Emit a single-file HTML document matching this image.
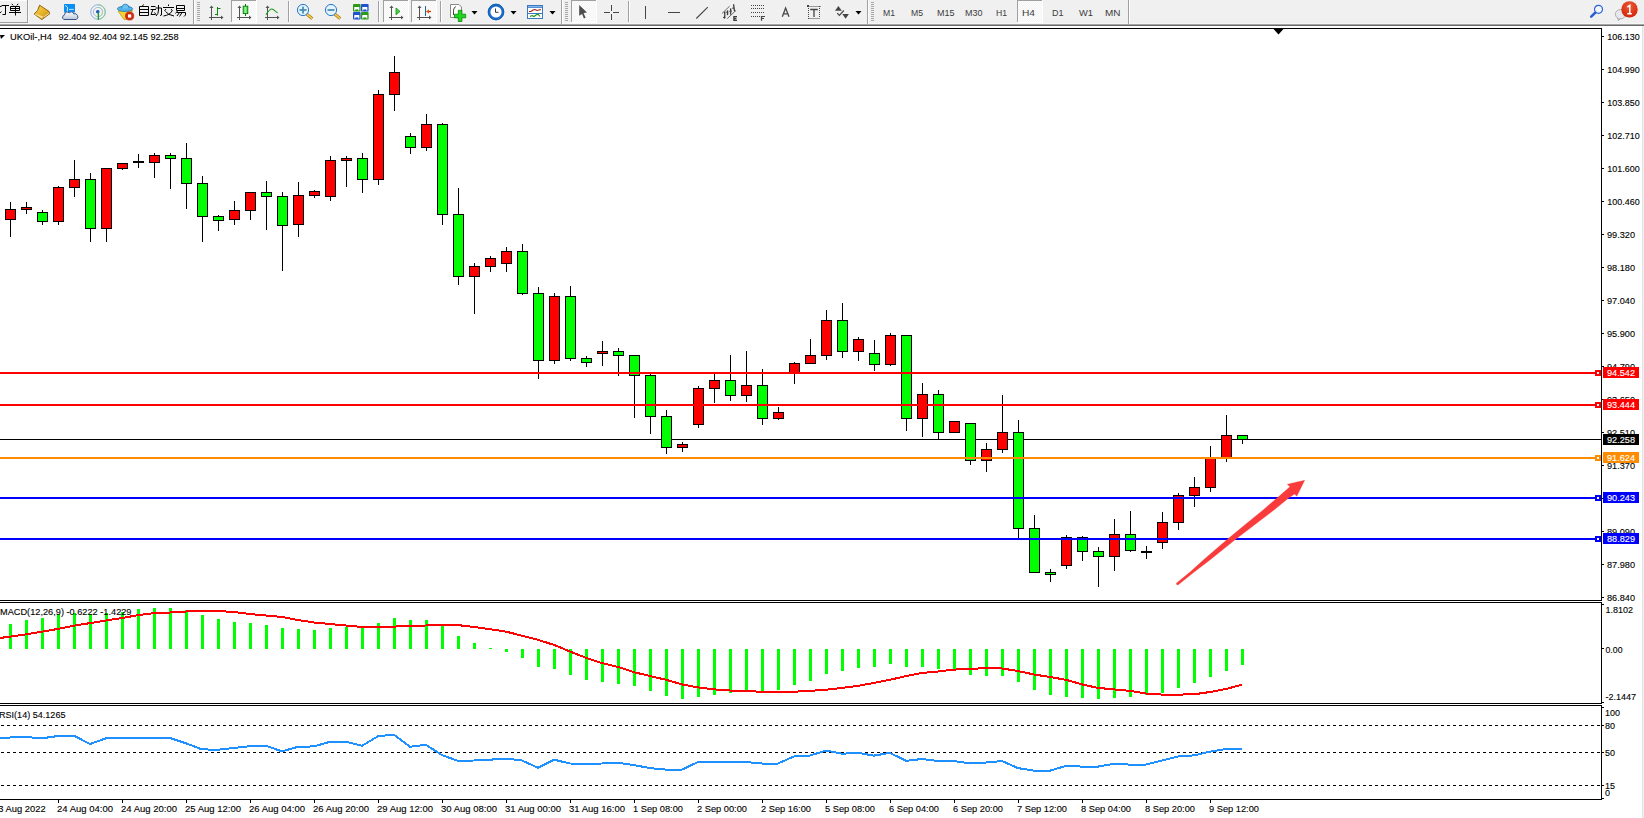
<!DOCTYPE html>
<html><head><meta charset="utf-8"><title>MT4 UKOil H4</title>
<style>html,body{margin:0;padding:0;width:1644px;height:818px;overflow:hidden;background:#fff}text{white-space:pre}</style>
</head><body>
<svg width="1644" height="818" viewBox="0 0 1644 818" font-family="'Liberation Sans', sans-serif" style="display:block">
<rect x="0" y="0" width="1644" height="818" fill="#f0f0f0"/>
<rect x="0" y="26" width="1642" height="792" fill="#fff"/>
<rect x="1642" y="26" width="1" height="792" fill="#e3e3e3"/>
<rect x="0" y="23" width="1644" height="1" fill="#f6f6f6"/>
<rect x="0" y="24" width="1644" height="1" fill="#a5a5a5"/>
<rect x="0" y="25" width="1644" height="1" fill="#6b6b6b"/>
<g shape-rendering="crispEdges">
<rect x="0" y="439" width="1601" height="1" fill="#000"/>
<rect x="10" y="202" width="1" height="35" fill="#000"/>
<rect x="5" y="209" width="11" height="11" fill="#000"/>
<rect x="6" y="210" width="9" height="9" fill="#f00"/>
<rect x="26" y="202" width="1" height="12" fill="#000"/>
<rect x="21" y="207" width="11" height="3" fill="#000"/>
<rect x="22" y="208" width="9" height="1" fill="#f00"/>
<rect x="42" y="210" width="1" height="15" fill="#000"/>
<rect x="37" y="212" width="11" height="10" fill="#000"/>
<rect x="38" y="213" width="9" height="8" fill="#0f0"/>
<rect x="58" y="186" width="1" height="39" fill="#000"/>
<rect x="53" y="187" width="11" height="35" fill="#000"/>
<rect x="54" y="188" width="9" height="33" fill="#f00"/>
<rect x="74" y="160" width="1" height="37" fill="#000"/>
<rect x="69" y="179" width="11" height="9" fill="#000"/>
<rect x="70" y="180" width="9" height="7" fill="#f00"/>
<rect x="90" y="173" width="1" height="69" fill="#000"/>
<rect x="85" y="179" width="11" height="50" fill="#000"/>
<rect x="86" y="180" width="9" height="48" fill="#0f0"/>
<rect x="106" y="168" width="1" height="74" fill="#000"/>
<rect x="101" y="168" width="11" height="61" fill="#000"/>
<rect x="102" y="169" width="9" height="59" fill="#f00"/>
<rect x="122" y="163" width="1" height="7" fill="#000"/>
<rect x="117" y="163" width="11" height="6" fill="#000"/>
<rect x="118" y="164" width="9" height="4" fill="#f00"/>
<rect x="138" y="154" width="1" height="14" fill="#000"/>
<rect x="133" y="161" width="11" height="2" fill="#000"/>
<rect x="154" y="153" width="1" height="25" fill="#000"/>
<rect x="149" y="155" width="11" height="8" fill="#000"/>
<rect x="150" y="156" width="9" height="6" fill="#f00"/>
<rect x="170" y="153" width="1" height="36" fill="#000"/>
<rect x="165" y="155" width="11" height="4" fill="#000"/>
<rect x="166" y="156" width="9" height="2" fill="#0f0"/>
<rect x="186" y="143" width="1" height="66" fill="#000"/>
<rect x="181" y="158" width="11" height="26" fill="#000"/>
<rect x="182" y="159" width="9" height="24" fill="#0f0"/>
<rect x="202" y="176" width="1" height="66" fill="#000"/>
<rect x="197" y="183" width="11" height="34" fill="#000"/>
<rect x="198" y="184" width="9" height="32" fill="#0f0"/>
<rect x="218" y="215" width="1" height="16" fill="#000"/>
<rect x="213" y="216" width="11" height="5" fill="#000"/>
<rect x="214" y="217" width="9" height="3" fill="#0f0"/>
<rect x="234" y="201" width="1" height="24" fill="#000"/>
<rect x="229" y="210" width="11" height="10" fill="#000"/>
<rect x="230" y="211" width="9" height="8" fill="#f00"/>
<rect x="250" y="192" width="1" height="28" fill="#000"/>
<rect x="245" y="192" width="11" height="19" fill="#000"/>
<rect x="246" y="193" width="9" height="17" fill="#f00"/>
<rect x="266" y="181" width="1" height="49" fill="#000"/>
<rect x="261" y="192" width="11" height="5" fill="#000"/>
<rect x="262" y="193" width="9" height="3" fill="#0f0"/>
<rect x="282" y="192" width="1" height="79" fill="#000"/>
<rect x="277" y="196" width="11" height="30" fill="#000"/>
<rect x="278" y="197" width="9" height="28" fill="#0f0"/>
<rect x="298" y="182" width="1" height="55" fill="#000"/>
<rect x="293" y="195" width="11" height="30" fill="#000"/>
<rect x="294" y="196" width="9" height="28" fill="#f00"/>
<rect x="314" y="190" width="1" height="8" fill="#000"/>
<rect x="309" y="191" width="11" height="5" fill="#000"/>
<rect x="310" y="192" width="9" height="3" fill="#f00"/>
<rect x="330" y="156" width="1" height="45" fill="#000"/>
<rect x="325" y="160" width="11" height="37" fill="#000"/>
<rect x="326" y="161" width="9" height="35" fill="#f00"/>
<rect x="346" y="156" width="1" height="31" fill="#000"/>
<rect x="341" y="158" width="11" height="3" fill="#000"/>
<rect x="342" y="159" width="9" height="1" fill="#f00"/>
<rect x="362" y="153" width="1" height="40" fill="#000"/>
<rect x="357" y="158" width="11" height="22" fill="#000"/>
<rect x="358" y="159" width="9" height="20" fill="#0f0"/>
<rect x="378" y="90" width="1" height="95" fill="#000"/>
<rect x="373" y="94" width="11" height="86" fill="#000"/>
<rect x="374" y="95" width="9" height="84" fill="#f00"/>
<rect x="394" y="56" width="1" height="55" fill="#000"/>
<rect x="389" y="72" width="11" height="23" fill="#000"/>
<rect x="390" y="73" width="9" height="21" fill="#f00"/>
<rect x="410" y="133" width="1" height="21" fill="#000"/>
<rect x="405" y="136" width="11" height="12" fill="#000"/>
<rect x="406" y="137" width="9" height="10" fill="#0f0"/>
<rect x="426" y="114" width="1" height="37" fill="#000"/>
<rect x="421" y="124" width="11" height="24" fill="#000"/>
<rect x="422" y="125" width="9" height="22" fill="#f00"/>
<rect x="442" y="123" width="1" height="102" fill="#000"/>
<rect x="437" y="124" width="11" height="91" fill="#000"/>
<rect x="438" y="125" width="9" height="89" fill="#0f0"/>
<rect x="458" y="188" width="1" height="97" fill="#000"/>
<rect x="453" y="214" width="11" height="63" fill="#000"/>
<rect x="454" y="215" width="9" height="61" fill="#0f0"/>
<rect x="474" y="263" width="1" height="51" fill="#000"/>
<rect x="469" y="266" width="11" height="11" fill="#000"/>
<rect x="470" y="267" width="9" height="9" fill="#f00"/>
<rect x="490" y="256" width="1" height="16" fill="#000"/>
<rect x="485" y="258" width="11" height="9" fill="#000"/>
<rect x="486" y="259" width="9" height="7" fill="#f00"/>
<rect x="506" y="247" width="1" height="25" fill="#000"/>
<rect x="501" y="251" width="11" height="13" fill="#000"/>
<rect x="502" y="252" width="9" height="11" fill="#f00"/>
<rect x="522" y="244" width="1" height="51" fill="#000"/>
<rect x="517" y="251" width="11" height="43" fill="#000"/>
<rect x="518" y="252" width="9" height="41" fill="#0f0"/>
<rect x="538" y="287" width="1" height="92" fill="#000"/>
<rect x="533" y="293" width="11" height="68" fill="#000"/>
<rect x="534" y="294" width="9" height="66" fill="#0f0"/>
<rect x="554" y="293" width="1" height="71" fill="#000"/>
<rect x="549" y="296" width="11" height="65" fill="#000"/>
<rect x="550" y="297" width="9" height="63" fill="#f00"/>
<rect x="570" y="286" width="1" height="75" fill="#000"/>
<rect x="565" y="296" width="11" height="63" fill="#000"/>
<rect x="566" y="297" width="9" height="61" fill="#0f0"/>
<rect x="586" y="356" width="1" height="11" fill="#000"/>
<rect x="581" y="358" width="11" height="5" fill="#000"/>
<rect x="582" y="359" width="9" height="3" fill="#0f0"/>
<rect x="602" y="341" width="1" height="25" fill="#000"/>
<rect x="597" y="351" width="11" height="3" fill="#000"/>
<rect x="598" y="352" width="9" height="1" fill="#f00"/>
<rect x="618" y="348" width="1" height="28" fill="#000"/>
<rect x="613" y="351" width="11" height="5" fill="#000"/>
<rect x="614" y="352" width="9" height="3" fill="#0f0"/>
<rect x="634" y="355" width="1" height="63" fill="#000"/>
<rect x="629" y="355" width="11" height="21" fill="#000"/>
<rect x="630" y="356" width="9" height="19" fill="#0f0"/>
<rect x="650" y="374" width="1" height="60" fill="#000"/>
<rect x="645" y="375" width="11" height="42" fill="#000"/>
<rect x="646" y="376" width="9" height="40" fill="#0f0"/>
<rect x="666" y="410" width="1" height="44" fill="#000"/>
<rect x="661" y="416" width="11" height="32" fill="#000"/>
<rect x="662" y="417" width="9" height="30" fill="#0f0"/>
<rect x="682" y="442" width="1" height="10" fill="#000"/>
<rect x="677" y="444" width="11" height="4" fill="#000"/>
<rect x="678" y="445" width="9" height="2" fill="#f00"/>
<rect x="698" y="386" width="1" height="42" fill="#000"/>
<rect x="693" y="388" width="11" height="37" fill="#000"/>
<rect x="694" y="389" width="9" height="35" fill="#f00"/>
<rect x="714" y="374" width="1" height="29" fill="#000"/>
<rect x="709" y="380" width="11" height="9" fill="#000"/>
<rect x="710" y="381" width="9" height="7" fill="#f00"/>
<rect x="730" y="355" width="1" height="46" fill="#000"/>
<rect x="725" y="380" width="11" height="16" fill="#000"/>
<rect x="726" y="381" width="9" height="14" fill="#0f0"/>
<rect x="746" y="351" width="1" height="51" fill="#000"/>
<rect x="741" y="385" width="11" height="11" fill="#000"/>
<rect x="742" y="386" width="9" height="9" fill="#f00"/>
<rect x="762" y="369" width="1" height="56" fill="#000"/>
<rect x="757" y="385" width="11" height="34" fill="#000"/>
<rect x="758" y="386" width="9" height="32" fill="#0f0"/>
<rect x="778" y="407" width="1" height="13" fill="#000"/>
<rect x="773" y="412" width="11" height="7" fill="#000"/>
<rect x="774" y="413" width="9" height="5" fill="#f00"/>
<rect x="794" y="362" width="1" height="22" fill="#000"/>
<rect x="789" y="363" width="11" height="11" fill="#000"/>
<rect x="790" y="364" width="9" height="9" fill="#f00"/>
<rect x="810" y="339" width="1" height="25" fill="#000"/>
<rect x="805" y="355" width="11" height="9" fill="#000"/>
<rect x="806" y="356" width="9" height="7" fill="#f00"/>
<rect x="826" y="310" width="1" height="50" fill="#000"/>
<rect x="821" y="320" width="11" height="36" fill="#000"/>
<rect x="822" y="321" width="9" height="34" fill="#f00"/>
<rect x="842" y="303" width="1" height="55" fill="#000"/>
<rect x="837" y="320" width="11" height="32" fill="#000"/>
<rect x="838" y="321" width="9" height="30" fill="#0f0"/>
<rect x="858" y="337" width="1" height="24" fill="#000"/>
<rect x="853" y="339" width="11" height="13" fill="#000"/>
<rect x="854" y="340" width="9" height="11" fill="#f00"/>
<rect x="874" y="340" width="1" height="31" fill="#000"/>
<rect x="869" y="353" width="11" height="12" fill="#000"/>
<rect x="870" y="354" width="9" height="10" fill="#0f0"/>
<rect x="890" y="333" width="1" height="33" fill="#000"/>
<rect x="885" y="335" width="11" height="30" fill="#000"/>
<rect x="886" y="336" width="9" height="28" fill="#f00"/>
<rect x="906" y="335" width="1" height="96" fill="#000"/>
<rect x="901" y="335" width="11" height="84" fill="#000"/>
<rect x="902" y="336" width="9" height="82" fill="#0f0"/>
<rect x="922" y="383" width="1" height="54" fill="#000"/>
<rect x="917" y="394" width="11" height="25" fill="#000"/>
<rect x="918" y="395" width="9" height="23" fill="#f00"/>
<rect x="938" y="390" width="1" height="49" fill="#000"/>
<rect x="933" y="394" width="11" height="39" fill="#000"/>
<rect x="934" y="395" width="9" height="37" fill="#0f0"/>
<rect x="954" y="421" width="1" height="12" fill="#000"/>
<rect x="949" y="421" width="11" height="12" fill="#000"/>
<rect x="950" y="422" width="9" height="10" fill="#f00"/>
<rect x="970" y="423" width="1" height="42" fill="#000"/>
<rect x="965" y="423" width="11" height="38" fill="#000"/>
<rect x="966" y="424" width="9" height="36" fill="#0f0"/>
<rect x="986" y="443" width="1" height="29" fill="#000"/>
<rect x="981" y="449" width="11" height="12" fill="#000"/>
<rect x="982" y="450" width="9" height="10" fill="#f00"/>
<rect x="1002" y="395" width="1" height="58" fill="#000"/>
<rect x="997" y="432" width="11" height="18" fill="#000"/>
<rect x="998" y="433" width="9" height="16" fill="#f00"/>
<rect x="1018" y="420" width="1" height="119" fill="#000"/>
<rect x="1013" y="432" width="11" height="97" fill="#000"/>
<rect x="1014" y="433" width="9" height="95" fill="#0f0"/>
<rect x="1034" y="515" width="1" height="58" fill="#000"/>
<rect x="1029" y="528" width="11" height="45" fill="#000"/>
<rect x="1030" y="529" width="9" height="43" fill="#0f0"/>
<rect x="1050" y="569" width="1" height="13" fill="#000"/>
<rect x="1045" y="572" width="11" height="3" fill="#000"/>
<rect x="1046" y="573" width="9" height="1" fill="#0f0"/>
<rect x="1066" y="535" width="1" height="34" fill="#000"/>
<rect x="1061" y="537" width="11" height="29" fill="#000"/>
<rect x="1062" y="538" width="9" height="27" fill="#f00"/>
<rect x="1082" y="536" width="1" height="25" fill="#000"/>
<rect x="1077" y="537" width="11" height="15" fill="#000"/>
<rect x="1078" y="538" width="9" height="13" fill="#0f0"/>
<rect x="1098" y="547" width="1" height="40" fill="#000"/>
<rect x="1093" y="551" width="11" height="6" fill="#000"/>
<rect x="1094" y="552" width="9" height="4" fill="#0f0"/>
<rect x="1114" y="519" width="1" height="52" fill="#000"/>
<rect x="1109" y="534" width="11" height="23" fill="#000"/>
<rect x="1110" y="535" width="9" height="21" fill="#f00"/>
<rect x="1130" y="511" width="1" height="41" fill="#000"/>
<rect x="1125" y="534" width="11" height="17" fill="#000"/>
<rect x="1126" y="535" width="9" height="15" fill="#0f0"/>
<rect x="1146" y="546" width="1" height="13" fill="#000"/>
<rect x="1141" y="551" width="11" height="2" fill="#000"/>
<rect x="1162" y="512" width="1" height="37" fill="#000"/>
<rect x="1157" y="522" width="11" height="21" fill="#000"/>
<rect x="1158" y="523" width="9" height="19" fill="#f00"/>
<rect x="1178" y="493" width="1" height="37" fill="#000"/>
<rect x="1173" y="495" width="11" height="28" fill="#000"/>
<rect x="1174" y="496" width="9" height="26" fill="#f00"/>
<rect x="1194" y="477" width="1" height="30" fill="#000"/>
<rect x="1189" y="487" width="11" height="9" fill="#000"/>
<rect x="1190" y="488" width="9" height="7" fill="#f00"/>
<rect x="1210" y="446" width="1" height="46" fill="#000"/>
<rect x="1205" y="458" width="11" height="30" fill="#000"/>
<rect x="1206" y="459" width="9" height="28" fill="#f00"/>
<rect x="1226" y="415" width="1" height="47" fill="#000"/>
<rect x="1221" y="435" width="11" height="23" fill="#000"/>
<rect x="1222" y="436" width="9" height="21" fill="#f00"/>
<rect x="1242" y="435" width="1" height="9" fill="#000"/>
<rect x="1237" y="435" width="11" height="5" fill="#000"/>
<rect x="1238" y="436" width="9" height="3" fill="#0f0"/>
</g>
<g shape-rendering="crispEdges">
<rect x="0" y="28" width="1602" height="1" fill="#000"/>
<rect x="0" y="600" width="1602" height="1" fill="#000"/>
<rect x="1601" y="28" width="1" height="573" fill="#000"/>
<rect x="0" y="602" width="1602" height="1" fill="#000"/>
<rect x="0" y="703" width="1602" height="1" fill="#000"/>
<rect x="1601" y="602" width="1" height="102" fill="#000"/>
<rect x="0" y="705" width="1602" height="1" fill="#000"/>
<rect x="0" y="799" width="1602" height="1" fill="#000"/>
<rect x="1601" y="705" width="1" height="95" fill="#000"/>
<rect x="1602" y="36" width="2" height="1" fill="#000"/>
<text x="1607.3" y="40" font-size="9.4" fill="#000" stroke="#000" stroke-width="0.12" textLength="32.3" lengthAdjust="spacingAndGlyphs">106.130</text>
<rect x="1602" y="69" width="2" height="1" fill="#000"/>
<text x="1607.3" y="73" font-size="9.4" fill="#000" stroke="#000" stroke-width="0.12" textLength="32.3" lengthAdjust="spacingAndGlyphs">104.990</text>
<rect x="1602" y="102" width="2" height="1" fill="#000"/>
<text x="1607.3" y="106" font-size="9.4" fill="#000" stroke="#000" stroke-width="0.12" textLength="32.3" lengthAdjust="spacingAndGlyphs">103.850</text>
<rect x="1602" y="135" width="2" height="1" fill="#000"/>
<text x="1607.3" y="139" font-size="9.4" fill="#000" stroke="#000" stroke-width="0.12" textLength="32.3" lengthAdjust="spacingAndGlyphs">102.710</text>
<rect x="1602" y="168" width="2" height="1" fill="#000"/>
<text x="1607.3" y="172" font-size="9.4" fill="#000" stroke="#000" stroke-width="0.12" textLength="32.3" lengthAdjust="spacingAndGlyphs">101.600</text>
<rect x="1602" y="201" width="2" height="1" fill="#000"/>
<text x="1607.3" y="205" font-size="9.4" fill="#000" stroke="#000" stroke-width="0.12" textLength="32.3" lengthAdjust="spacingAndGlyphs">100.460</text>
<rect x="1602" y="234" width="2" height="1" fill="#000"/>
<text x="1607" y="238" font-size="9.4" fill="#000" stroke="#000" stroke-width="0.12" textLength="28" lengthAdjust="spacingAndGlyphs">99.320</text>
<rect x="1602" y="267" width="2" height="1" fill="#000"/>
<text x="1607" y="271" font-size="9.4" fill="#000" stroke="#000" stroke-width="0.12" textLength="28" lengthAdjust="spacingAndGlyphs">98.180</text>
<rect x="1602" y="300" width="2" height="1" fill="#000"/>
<text x="1607" y="304" font-size="9.4" fill="#000" stroke="#000" stroke-width="0.12" textLength="28" lengthAdjust="spacingAndGlyphs">97.040</text>
<rect x="1602" y="333" width="2" height="1" fill="#000"/>
<text x="1607" y="337" font-size="9.4" fill="#000" stroke="#000" stroke-width="0.12" textLength="28" lengthAdjust="spacingAndGlyphs">95.900</text>
<rect x="1602" y="366" width="2" height="1" fill="#000"/>
<text x="1607" y="370" font-size="9.4" fill="#000" stroke="#000" stroke-width="0.12" textLength="28" lengthAdjust="spacingAndGlyphs">94.790</text>
<rect x="1602" y="399" width="2" height="1" fill="#000"/>
<text x="1607" y="403" font-size="9.4" fill="#000" stroke="#000" stroke-width="0.12" textLength="28" lengthAdjust="spacingAndGlyphs">93.650</text>
<rect x="1602" y="432" width="2" height="1" fill="#000"/>
<text x="1607" y="436" font-size="9.4" fill="#000" stroke="#000" stroke-width="0.12" textLength="28" lengthAdjust="spacingAndGlyphs">92.510</text>
<rect x="1602" y="465" width="2" height="1" fill="#000"/>
<text x="1607" y="469" font-size="9.4" fill="#000" stroke="#000" stroke-width="0.12" textLength="28" lengthAdjust="spacingAndGlyphs">91.370</text>
<rect x="1602" y="498" width="2" height="1" fill="#000"/>
<text x="1607" y="502" font-size="9.4" fill="#000" stroke="#000" stroke-width="0.12" textLength="28" lengthAdjust="spacingAndGlyphs">90.230</text>
<rect x="1602" y="531" width="2" height="1" fill="#000"/>
<text x="1607" y="535" font-size="9.4" fill="#000" stroke="#000" stroke-width="0.12" textLength="28" lengthAdjust="spacingAndGlyphs">89.090</text>
<rect x="1602" y="564" width="2" height="1" fill="#000"/>
<text x="1607" y="568" font-size="9.4" fill="#000" stroke="#000" stroke-width="0.12" textLength="28" lengthAdjust="spacingAndGlyphs">87.980</text>
<rect x="1602" y="597" width="2" height="1" fill="#000"/>
<text x="1607" y="601" font-size="9.4" fill="#000" stroke="#000" stroke-width="0.12" textLength="28" lengthAdjust="spacingAndGlyphs">86.840</text>
<rect x="1602" y="604" width="2" height="1" fill="#000"/>
<rect x="1602" y="648" width="2" height="1" fill="#000"/>
<rect x="1602" y="702" width="2" height="1" fill="#000"/>
<text x="1605.5" y="613" font-size="9.4" fill="#000" stroke="#000" stroke-width="0.12" textLength="27.5" lengthAdjust="spacingAndGlyphs">1.8102</text>
<text x="1605.5" y="652.5" font-size="9.4" fill="#000" stroke="#000" stroke-width="0.12" textLength="17" lengthAdjust="spacingAndGlyphs">0.00</text>
<text x="1605.5" y="700" font-size="9.4" fill="#000" stroke="#000" stroke-width="0.12" textLength="30.5" lengthAdjust="spacingAndGlyphs">-2.1447</text>
<rect x="1602" y="707" width="2" height="1" fill="#000"/>
<rect x="1602" y="725" width="2" height="1" fill="#000"/>
<rect x="1602" y="752" width="2" height="1" fill="#000"/>
<rect x="1602" y="785" width="2" height="1" fill="#000"/>
<rect x="1602" y="798" width="2" height="1" fill="#000"/>
<text x="1605" y="716" font-size="9.4" fill="#000" stroke="#000" stroke-width="0.12" textLength="15" lengthAdjust="spacingAndGlyphs">100</text>
<text x="1605" y="729" font-size="9.4" fill="#000" stroke="#000" stroke-width="0.12" textLength="10" lengthAdjust="spacingAndGlyphs">80</text>
<text x="1605" y="756" font-size="9.4" fill="#000" stroke="#000" stroke-width="0.12" textLength="10" lengthAdjust="spacingAndGlyphs">50</text>
<text x="1605" y="789" font-size="9.4" fill="#000" stroke="#000" stroke-width="0.12" textLength="10" lengthAdjust="spacingAndGlyphs">15</text>
<text x="1605" y="795.5" font-size="9.4" fill="#000" stroke="#000" stroke-width="0.12" textLength="5" lengthAdjust="spacingAndGlyphs">0</text>
<line x1="1" y1="725.5" x2="1601" y2="725.5" stroke="#000" stroke-width="1" stroke-dasharray="3 3"/>
<line x1="1" y1="752.5" x2="1601" y2="752.5" stroke="#000" stroke-width="1" stroke-dasharray="3 3"/>
<line x1="1" y1="785.5" x2="1601" y2="785.5" stroke="#000" stroke-width="1" stroke-dasharray="3 3"/>
<rect x="58" y="800" width="1" height="3" fill="#000"/>
<text x="57" y="812" font-size="9.4" fill="#000" stroke="#000" stroke-width="0.12" textLength="56" lengthAdjust="spacingAndGlyphs">24 Aug 04:00</text>
<rect x="122" y="800" width="1" height="3" fill="#000"/>
<text x="121" y="812" font-size="9.4" fill="#000" stroke="#000" stroke-width="0.12" textLength="56" lengthAdjust="spacingAndGlyphs">24 Aug 20:00</text>
<rect x="186" y="800" width="1" height="3" fill="#000"/>
<text x="185" y="812" font-size="9.4" fill="#000" stroke="#000" stroke-width="0.12" textLength="56" lengthAdjust="spacingAndGlyphs">25 Aug 12:00</text>
<rect x="250" y="800" width="1" height="3" fill="#000"/>
<text x="249" y="812" font-size="9.4" fill="#000" stroke="#000" stroke-width="0.12" textLength="56" lengthAdjust="spacingAndGlyphs">26 Aug 04:00</text>
<rect x="314" y="800" width="1" height="3" fill="#000"/>
<text x="313" y="812" font-size="9.4" fill="#000" stroke="#000" stroke-width="0.12" textLength="56" lengthAdjust="spacingAndGlyphs">26 Aug 20:00</text>
<rect x="378" y="800" width="1" height="3" fill="#000"/>
<text x="377" y="812" font-size="9.4" fill="#000" stroke="#000" stroke-width="0.12" textLength="56" lengthAdjust="spacingAndGlyphs">29 Aug 12:00</text>
<rect x="442" y="800" width="1" height="3" fill="#000"/>
<text x="441" y="812" font-size="9.4" fill="#000" stroke="#000" stroke-width="0.12" textLength="56" lengthAdjust="spacingAndGlyphs">30 Aug 08:00</text>
<rect x="506" y="800" width="1" height="3" fill="#000"/>
<text x="505" y="812" font-size="9.4" fill="#000" stroke="#000" stroke-width="0.12" textLength="56" lengthAdjust="spacingAndGlyphs">31 Aug 00:00</text>
<rect x="570" y="800" width="1" height="3" fill="#000"/>
<text x="569" y="812" font-size="9.4" fill="#000" stroke="#000" stroke-width="0.12" textLength="56" lengthAdjust="spacingAndGlyphs">31 Aug 16:00</text>
<rect x="634" y="800" width="1" height="3" fill="#000"/>
<text x="633" y="812" font-size="9.4" fill="#000" stroke="#000" stroke-width="0.12" textLength="50" lengthAdjust="spacingAndGlyphs">1 Sep 08:00</text>
<rect x="698" y="800" width="1" height="3" fill="#000"/>
<text x="697" y="812" font-size="9.4" fill="#000" stroke="#000" stroke-width="0.12" textLength="50" lengthAdjust="spacingAndGlyphs">2 Sep 00:00</text>
<rect x="762" y="800" width="1" height="3" fill="#000"/>
<text x="761" y="812" font-size="9.4" fill="#000" stroke="#000" stroke-width="0.12" textLength="50" lengthAdjust="spacingAndGlyphs">2 Sep 16:00</text>
<rect x="826" y="800" width="1" height="3" fill="#000"/>
<text x="825" y="812" font-size="9.4" fill="#000" stroke="#000" stroke-width="0.12" textLength="50" lengthAdjust="spacingAndGlyphs">5 Sep 08:00</text>
<rect x="890" y="800" width="1" height="3" fill="#000"/>
<text x="889" y="812" font-size="9.4" fill="#000" stroke="#000" stroke-width="0.12" textLength="50" lengthAdjust="spacingAndGlyphs">6 Sep 04:00</text>
<rect x="954" y="800" width="1" height="3" fill="#000"/>
<text x="953" y="812" font-size="9.4" fill="#000" stroke="#000" stroke-width="0.12" textLength="50" lengthAdjust="spacingAndGlyphs">6 Sep 20:00</text>
<rect x="1018" y="800" width="1" height="3" fill="#000"/>
<text x="1017" y="812" font-size="9.4" fill="#000" stroke="#000" stroke-width="0.12" textLength="50" lengthAdjust="spacingAndGlyphs">7 Sep 12:00</text>
<rect x="1082" y="800" width="1" height="3" fill="#000"/>
<text x="1081" y="812" font-size="9.4" fill="#000" stroke="#000" stroke-width="0.12" textLength="50" lengthAdjust="spacingAndGlyphs">8 Sep 04:00</text>
<rect x="1146" y="800" width="1" height="3" fill="#000"/>
<text x="1145" y="812" font-size="9.4" fill="#000" stroke="#000" stroke-width="0.12" textLength="50" lengthAdjust="spacingAndGlyphs">8 Sep 20:00</text>
<rect x="1210" y="800" width="1" height="3" fill="#000"/>
<text x="1209" y="812" font-size="9.4" fill="#000" stroke="#000" stroke-width="0.12" textLength="50" lengthAdjust="spacingAndGlyphs">9 Sep 12:00</text>
<text x="-7" y="812" font-size="9.4" fill="#000" stroke="#000" stroke-width="0.12" textLength="52.6" lengthAdjust="spacingAndGlyphs">23 Aug 2022</text>
</g>
<g shape-rendering="crispEdges">
<rect x="0" y="372" width="1601" height="2" fill="#f00"/>
<rect x="1595" y="370" width="6" height="6" fill="#f00"/>
<rect x="1597" y="372" width="2" height="2" fill="#fff"/>
<rect x="1603" y="367" width="36" height="11" fill="#f00"/>
<text x="1607" y="376" font-size="9.4" fill="#fff" stroke="#fff" stroke-width="0.12" textLength="28" lengthAdjust="spacingAndGlyphs">94.542</text>
<rect x="0" y="404" width="1601" height="2" fill="#f00"/>
<rect x="1595" y="402" width="6" height="6" fill="#f00"/>
<rect x="1597" y="404" width="2" height="2" fill="#fff"/>
<rect x="1603" y="399" width="36" height="11" fill="#f00"/>
<text x="1607" y="408" font-size="9.4" fill="#fff" stroke="#fff" stroke-width="0.12" textLength="28" lengthAdjust="spacingAndGlyphs">93.444</text>
<rect x="0" y="457" width="1601" height="2" fill="#ff8c00"/>
<rect x="1595" y="455" width="6" height="6" fill="#ff8c00"/>
<rect x="1597" y="457" width="2" height="2" fill="#fff"/>
<rect x="1603" y="452" width="36" height="11" fill="#ff8c00"/>
<text x="1607" y="461" font-size="9.4" fill="#fff" stroke="#fff" stroke-width="0.12" textLength="28" lengthAdjust="spacingAndGlyphs">91.624</text>
<rect x="0" y="497" width="1601" height="2" fill="#00f"/>
<rect x="1595" y="495" width="6" height="6" fill="#00f"/>
<rect x="1597" y="497" width="2" height="2" fill="#fff"/>
<rect x="1603" y="492" width="36" height="11" fill="#00f"/>
<text x="1607" y="501" font-size="9.4" fill="#fff" stroke="#fff" stroke-width="0.12" textLength="28" lengthAdjust="spacingAndGlyphs">90.243</text>
<rect x="0" y="538" width="1601" height="2" fill="#00f"/>
<rect x="1595" y="536" width="6" height="6" fill="#00f"/>
<rect x="1597" y="538" width="2" height="2" fill="#fff"/>
<rect x="1603" y="533" width="36" height="11" fill="#00f"/>
<text x="1607" y="542" font-size="9.4" fill="#fff" stroke="#fff" stroke-width="0.12" textLength="28" lengthAdjust="spacingAndGlyphs">88.829</text>
<rect x="1603" y="434" width="36" height="11" fill="#000"/><text x="1607" y="443" font-size="9.4" fill="#fff" stroke="#fff" stroke-width="0.12" textLength="28" lengthAdjust="spacingAndGlyphs">92.258</text>
</g>
<rect x="9" y="624" width="3" height="25" fill="#0f0"/>
<rect x="25" y="620" width="3" height="29" fill="#0f0"/>
<rect x="41" y="618" width="3" height="31" fill="#0f0"/>
<rect x="57" y="614" width="3" height="35" fill="#0f0"/>
<rect x="73" y="613" width="3" height="36" fill="#0f0"/>
<rect x="89" y="614" width="3" height="35" fill="#0f0"/>
<rect x="105" y="613" width="3" height="36" fill="#0f0"/>
<rect x="121" y="612" width="3" height="37" fill="#0f0"/>
<rect x="137" y="609" width="3" height="40" fill="#0f0"/>
<rect x="153" y="608" width="3" height="41" fill="#0f0"/>
<rect x="169" y="608" width="3" height="41" fill="#0f0"/>
<rect x="185" y="610" width="3" height="39" fill="#0f0"/>
<rect x="201" y="615" width="3" height="34" fill="#0f0"/>
<rect x="217" y="619" width="3" height="30" fill="#0f0"/>
<rect x="233" y="622" width="3" height="27" fill="#0f0"/>
<rect x="249" y="623" width="3" height="26" fill="#0f0"/>
<rect x="265" y="625" width="3" height="24" fill="#0f0"/>
<rect x="281" y="628" width="3" height="21" fill="#0f0"/>
<rect x="297" y="629" width="3" height="20" fill="#0f0"/>
<rect x="313" y="630" width="3" height="19" fill="#0f0"/>
<rect x="329" y="628" width="3" height="21" fill="#0f0"/>
<rect x="345" y="627" width="3" height="22" fill="#0f0"/>
<rect x="361" y="628" width="3" height="21" fill="#0f0"/>
<rect x="377" y="623" width="3" height="26" fill="#0f0"/>
<rect x="393" y="618" width="3" height="31" fill="#0f0"/>
<rect x="409" y="620" width="3" height="29" fill="#0f0"/>
<rect x="425" y="620" width="3" height="29" fill="#0f0"/>
<rect x="441" y="626" width="3" height="23" fill="#0f0"/>
<rect x="457" y="636" width="3" height="13" fill="#0f0"/>
<rect x="473" y="643" width="3" height="6" fill="#0f0"/>
<rect x="489" y="648" width="3" height="1" fill="#0f0"/>
<rect x="505" y="649" width="3" height="3" fill="#0f0"/>
<rect x="521" y="649" width="3" height="9" fill="#0f0"/>
<rect x="537" y="649" width="3" height="18" fill="#0f0"/>
<rect x="553" y="649" width="3" height="20" fill="#0f0"/>
<rect x="569" y="649" width="3" height="26" fill="#0f0"/>
<rect x="585" y="649" width="3" height="31" fill="#0f0"/>
<rect x="601" y="649" width="3" height="33" fill="#0f0"/>
<rect x="617" y="649" width="3" height="35" fill="#0f0"/>
<rect x="633" y="649" width="3" height="37" fill="#0f0"/>
<rect x="649" y="649" width="3" height="42" fill="#0f0"/>
<rect x="665" y="649" width="3" height="47" fill="#0f0"/>
<rect x="681" y="649" width="3" height="50" fill="#0f0"/>
<rect x="697" y="649" width="3" height="48" fill="#0f0"/>
<rect x="713" y="649" width="3" height="46" fill="#0f0"/>
<rect x="729" y="649" width="3" height="44" fill="#0f0"/>
<rect x="745" y="649" width="3" height="43" fill="#0f0"/>
<rect x="761" y="649" width="3" height="42" fill="#0f0"/>
<rect x="777" y="649" width="3" height="41" fill="#0f0"/>
<rect x="793" y="649" width="3" height="36" fill="#0f0"/>
<rect x="809" y="649" width="3" height="32" fill="#0f0"/>
<rect x="825" y="649" width="3" height="25" fill="#0f0"/>
<rect x="841" y="649" width="3" height="22" fill="#0f0"/>
<rect x="857" y="649" width="3" height="19" fill="#0f0"/>
<rect x="873" y="649" width="3" height="18" fill="#0f0"/>
<rect x="889" y="649" width="3" height="15" fill="#0f0"/>
<rect x="905" y="649" width="3" height="18" fill="#0f0"/>
<rect x="921" y="649" width="3" height="18" fill="#0f0"/>
<rect x="937" y="649" width="3" height="20" fill="#0f0"/>
<rect x="953" y="649" width="3" height="22" fill="#0f0"/>
<rect x="969" y="649" width="3" height="26" fill="#0f0"/>
<rect x="985" y="649" width="3" height="27" fill="#0f0"/>
<rect x="1001" y="649" width="3" height="27" fill="#0f0"/>
<rect x="1017" y="649" width="3" height="33" fill="#0f0"/>
<rect x="1033" y="649" width="3" height="41" fill="#0f0"/>
<rect x="1049" y="649" width="3" height="46" fill="#0f0"/>
<rect x="1065" y="649" width="3" height="48" fill="#0f0"/>
<rect x="1081" y="649" width="3" height="49" fill="#0f0"/>
<rect x="1097" y="649" width="3" height="50" fill="#0f0"/>
<rect x="1113" y="649" width="3" height="49" fill="#0f0"/>
<rect x="1129" y="649" width="3" height="48" fill="#0f0"/>
<rect x="1145" y="649" width="3" height="46" fill="#0f0"/>
<rect x="1161" y="649" width="3" height="44" fill="#0f0"/>
<rect x="1177" y="649" width="3" height="39" fill="#0f0"/>
<rect x="1193" y="649" width="3" height="34" fill="#0f0"/>
<rect x="1209" y="649" width="3" height="28" fill="#0f0"/>
<rect x="1225" y="649" width="3" height="22" fill="#0f0"/>
<rect x="1241" y="649" width="3" height="16" fill="#0f0"/>
<polyline points="0.0,638.0 10.0,636.6 26.0,634.4 42.0,631.7 58.0,628.9 74.0,625.7 90.0,623.1 106.0,620.5 122.0,618.0 138.0,615.2 154.0,613.1 170.0,612.5 186.0,611.5 202.0,611.0 218.0,611.0 234.0,612.0 250.0,614.0 266.0,615.5 282.0,617.0 298.0,620.0 314.0,622.5 330.0,624.0 346.0,625.5 362.0,627.0 378.0,627.0 394.0,626.6 410.0,625.9 426.0,625.5 442.0,624.8 458.0,625.1 474.0,627.0 490.0,629.2 506.0,631.6 522.0,635.7 538.0,639.8 554.0,644.9 570.0,651.5 586.0,657.8 602.0,663.1 618.0,666.9 634.0,672.2 650.0,676.0 666.0,679.8 682.0,684.4 698.0,687.4 714.0,689.4 730.0,690.5 746.0,691.2 762.0,691.7 778.0,691.7 794.0,691.7 810.0,690.9 826.0,689.7 842.0,687.9 858.0,685.9 874.0,682.9 890.0,679.8 906.0,676.0 922.0,673.0 938.0,671.5 954.0,669.6 970.0,669.0 986.0,668.0 1002.0,668.5 1018.0,671.0 1034.0,674.5 1050.0,677.0 1066.0,679.8 1082.0,684.4 1098.0,687.9 1114.0,689.4 1130.0,690.9 1146.0,693.5 1162.0,694.6 1178.0,694.6 1194.0,694.3 1210.0,692.0 1226.0,689.0 1242.0,684.7" fill="none" stroke="#f00" stroke-width="2" stroke-linejoin="round" shape-rendering="crispEdges"/>
<polyline points="0.0,738.0 10.0,737.5 26.0,737.0 42.0,738.3 58.0,736.0 74.0,735.7 90.0,744.0 106.0,738.3 122.0,737.7 138.0,737.7 154.0,737.7 170.0,738.0 186.0,743.3 202.0,749.4 218.0,749.7 234.0,747.9 250.0,746.2 266.0,745.8 282.0,751.4 298.0,746.8 314.0,746.4 330.0,741.8 346.0,741.8 362.0,745.8 378.0,736.2 394.0,734.7 410.0,746.8 426.0,744.8 442.0,755.2 458.0,760.8 474.0,760.5 490.0,759.7 506.0,758.5 522.0,760.5 538.0,767.8 554.0,759.7 570.0,763.5 586.0,763.8 602.0,763.5 618.0,762.8 634.0,765.1 650.0,768.1 666.0,769.6 682.0,769.6 698.0,762.0 714.0,762.0 730.0,762.0 746.0,762.0 762.0,763.5 778.0,763.5 794.0,756.4 810.0,755.5 826.0,750.6 842.0,753.7 858.0,752.9 874.0,755.6 890.0,752.9 906.0,760.8 922.0,759.0 938.0,761.0 954.0,761.0 970.0,763.5 986.0,762.5 1002.0,761.0 1018.0,768.1 1034.0,770.7 1050.0,770.7 1066.0,765.8 1082.0,766.6 1098.0,766.6 1114.0,763.8 1130.0,764.6 1146.0,764.6 1162.0,760.5 1178.0,756.5 1194.0,755.4 1210.0,751.6 1226.0,749.1 1242.0,749.1" fill="none" stroke="#1e90ff" stroke-width="2" stroke-linejoin="round" shape-rendering="crispEdges"/>
<polygon points="0,35 5,35 1,39" fill="#000"/>
<text x="10" y="39.5" font-size="9.6" fill="#000" stroke="#000" stroke-width="0.12" textLength="42" lengthAdjust="spacingAndGlyphs">UKOil-,H4</text>
<text x="58.5" y="39.5" font-size="9.6" fill="#000" stroke="#000" stroke-width="0.12" textLength="120" lengthAdjust="spacingAndGlyphs">92.404 92.404 92.145 92.258</text>
<text x="0" y="615" font-size="9.6" fill="#000" stroke="#000" stroke-width="0.12" textLength="131.5" lengthAdjust="spacingAndGlyphs">MACD(12,26,9) -0.6222 -1.4229</text>
<text x="-1" y="717.5" font-size="9.6" fill="#000" stroke="#000" stroke-width="0.12" textLength="66.5" lengthAdjust="spacingAndGlyphs">RSI(14) 54.1265</text>
<polygon points="1273.5,29 1283.5,29 1278.5,34.5" fill="#000"/>
<polygon points="1176.3,583.2 1190,572.1 1205,558.6 1228,538.8 1244.1,525.4 1263.1,510 1277.6,497.5 1289.9,486.8 1287.3,484.3 1304.7,480.2 1296.8,496.2 1294.6,494 1289.3,497.5 1274,510 1236.3,538.8 1209.9,560 1194.2,572.1 1178,584.9 1176.6,584.6" fill="#f93b3b" stroke="#f93b3b" stroke-width="0.3" stroke-linejoin="round"/>
<defs>
<pattern id="chk" width="2" height="2" patternUnits="userSpaceOnUse"><rect width="2" height="2" fill="#f4f4f4"/><rect width="1" height="1" fill="#fdfdfd"/><rect x="1" y="1" width="1" height="1" fill="#fdfdfd"/></pattern>
<linearGradient id="gbody" x1="0" y1="0" x2="1" y2="0"><stop offset="0" stop-color="#3ddc3d"/><stop offset="0.5" stop-color="#8ff58f"/><stop offset="1" stop-color="#2ecc2e"/></linearGradient>
<linearGradient id="gold" x1="0" y1="0" x2="1" y2="1"><stop offset="0" stop-color="#f7d64a"/><stop offset="1" stop-color="#d99a12"/></linearGradient>
<radialGradient id="badge" cx="0.5" cy="0.3" r="0.7"><stop offset="0" stop-color="#ec5a36"/><stop offset="1" stop-color="#d42408"/></radialGradient>
<linearGradient id="cloud" x1="0" y1="0" x2="0" y2="1"><stop offset="0" stop-color="#ffffff"/><stop offset="1" stop-color="#b9c6dc"/></linearGradient>
<linearGradient id="tbar" x1="0" y1="0" x2="0" y2="1"><stop offset="0" stop-color="#9cc8f0"/><stop offset="1" stop-color="#3a7fd0"/></linearGradient>
</defs>
<rect x="0" y="0" width="28" height="1" fill="#ffffff"/>
<rect x="27" y="0" width="1" height="23" fill="#a0a0a0"/>
<rect x="0" y="22" width="28" height="1" fill="#a0a0a0"/>
<rect x="28" y="0" width="1" height="23" fill="#f8f8f8"/>
<path d="M0,6.5 H1.5 M0,13 L1.5,11.5" stroke="#000" stroke-width="1" fill="none"/>
<path d="M1.5,5.5 H9 M5.5,5.5 V14.5 H2.5" stroke="#000" stroke-width="1" fill="none"/>
<path d="M11.8,3.8 L13.2,5.4 M18.2,3.8 L16.8,5.4 M10.5,6.5 H19.5 V10.5 H10.5 Z M10.5,8.5 H19.5 M15.5,6 V15.5 M9,12.5 H21" stroke="#000" stroke-width="1" fill="none"/>
<polygon points="39.6,5.2 48.9,11.3 49.7,13.8 41.8,19.6 34.2,14 37.6,10.4" fill="#d9a21c" stroke="#8a5a08" stroke-width="0.9" stroke-linejoin="round"/>
<polygon points="40.2,6.3 48,11.6 43.3,16.2 35.6,13.2 38.2,10.6" fill="url(#gold)"/>
<polygon points="35.4,13.6 43.3,16.6 42,18.6 35,14.6" fill="#f3dc8e"/>
<path d="M44,16.8 L49,13.2" stroke="#e8e0b0" stroke-width="1"/>
<rect x="64" y="4" width="11" height="8.5" fill="#0a8ef2"/>
<path d="M64.9,5.2 L67.4,7.1 V12 M69,9.4 H73.7" stroke="#d8f0ff" stroke-width="0.9" fill="none"/>
<path d="M63.8,19.5 A2.5,2.5 0 0 1 64.6,14.9 A2.7,2.7 0 0 1 69.4,13 A2.3,2.3 0 0 1 73.7,13.9 A3.1,3.1 0 0 1 76.3,19.5 Z" fill="url(#cloud)" stroke="#3b5283" stroke-width="1"/>
<g fill="none" stroke-width="1">
<circle cx="98" cy="12" r="7.3" stroke="#6f9ee0" opacity="0.75"/>
<circle cx="98" cy="12" r="4.6" stroke="#7fa8e4" opacity="0.7"/>
<path d="M98,4.7 A7.3,7.3 0 0 1 98,19.3" stroke="#7fc87f" opacity="0.8"/>
<path d="M98,7.4 A4.6,4.6 0 0 1 98,16.6" stroke="#9fd29f" opacity="0.8"/>
</g>
<circle cx="97.8" cy="11.8" r="1.8" fill="#2050c8"/>
<rect x="97.7" y="12" width="1.3" height="7.6" fill="#1aa01a"/>
<polygon points="118,11 132.5,10.5 126.5,19.5 124,19.5" fill="#f2d23a" stroke="#c89a10" stroke-width="0.8"/>
<ellipse cx="125" cy="8.8" rx="7.6" ry="2.6" fill="#58b4ea" stroke="#1a7ab0" stroke-width="0.8"/>
<path d="M121.5,8.5 Q122,4.2 125.5,4.2 Q129,4.3 129,8.2" fill="#6ec2f0" stroke="#1a7ab0" stroke-width="0.8"/>
<circle cx="129.6" cy="16" r="4.1" fill="#d82a10" stroke="#a01800" stroke-width="0.6"/>
<rect x="128" y="14.4" width="3.2" height="3.2" fill="#fff"/>
<path d="M143.5,4.5 L142.5,6 M139.5,6.5 H148.5 M139.5,6.5 V15.5 M148.5,6.5 V15.5 M139.5,9.5 H148.5 M139.5,12.5 H148.5 M139.5,15.5 H148.5" stroke="#000" stroke-width="1" fill="none"/>
<path d="M151,6.5 H155.5 M150.5,9.5 H156 M153,9.5 L151,14.5 H155.5 M154.5,12.5 L156,14.5 M155.5,8 H161.5 V15 L160,15.5 M158.5,5 V10 Q158.5,14 156,16" stroke="#000" stroke-width="1" fill="none"/>
<path d="M168.5,4.5 V6 M163,7.5 H174 M166,9 L164.5,11 M171,9 L172.5,11 M172,11 Q170,15 163.5,16 M165.5,11.5 Q168,15 174,16" stroke="#000" stroke-width="1" fill="none"/>
<path d="M176.5,5.5 H184.5 V10.5 H176.5 Z M176.5,8.5 H184.5 M177.5,11 L175.5,13.5 M177,12.5 H185.5 V15 L184,16.5 M179.5,12.5 L177,16 M182,12.5 L179.5,16.5" stroke="#000" stroke-width="1" fill="none"/>
<rect x="193" y="0" width="1" height="24" fill="#a0a0a0"/><rect x="194" y="0" width="1" height="24" fill="#ffffff"/>
<rect x="197" y="2" width="3" height="1" fill="#a8a8a8"/>
<rect x="197" y="4" width="3" height="1" fill="#a8a8a8"/>
<rect x="197" y="6" width="3" height="1" fill="#a8a8a8"/>
<rect x="197" y="8" width="3" height="1" fill="#a8a8a8"/>
<rect x="197" y="10" width="3" height="1" fill="#a8a8a8"/>
<rect x="197" y="12" width="3" height="1" fill="#a8a8a8"/>
<rect x="197" y="14" width="3" height="1" fill="#a8a8a8"/>
<rect x="197" y="16" width="3" height="1" fill="#a8a8a8"/>
<rect x="197" y="18" width="3" height="1" fill="#a8a8a8"/>
<rect x="197" y="20" width="3" height="1" fill="#a8a8a8"/>
<rect x="211" y="6" width="1" height="14" fill="#525252"/>
<polygon points="209.5,8 211.5,5.5 213.5,8" fill="#525252"/>
<rect x="209" y="17" width="14" height="1" fill="#525252"/>
<polygon points="221,15.5 223.5,17.5 221,19.5" fill="#525252"/>
<path d="M217.5,7 V15.6 M218,8.5 H220.5 M215,14.5 H217.5" stroke="#0a8a0a" stroke-width="1" fill="none"/>
<rect x="231" y="0" width="26" height="23" fill="url(#chk)"/>
<rect x="231" y="0" width="25" height="1" fill="#a0a0a0"/>
<rect x="231" y="0" width="1" height="22" fill="#a0a0a0"/>
<rect x="256" y="0" width="1" height="23" fill="#ffffff"/>
<rect x="231" y="22" width="26" height="1" fill="#ffffff"/>
<rect x="239" y="6" width="1" height="14" fill="#525252"/>
<polygon points="237.5,8 239.5,5.5 241.5,8" fill="#525252"/>
<rect x="237" y="17" width="14" height="1" fill="#525252"/>
<polygon points="249,15.5 251.5,17.5 249,19.5" fill="#525252"/>
<rect x="245" y="4" width="1" height="12" fill="#087a08"/>
<rect x="243.2" y="6.2" width="4.6" height="7.4" fill="url(#gbody)" stroke="#087a08" stroke-width="0.9"/>
<rect x="267" y="6" width="1" height="14" fill="#525252"/>
<polygon points="265.5,8 267.5,5.5 269.5,8" fill="#525252"/>
<rect x="265" y="17" width="14" height="1" fill="#525252"/>
<polygon points="277,15.5 279.5,17.5 277,19.5" fill="#525252"/>
<path d="M266,14.6 C268,11.5 270,8.8 272,9 C274,9.2 275.5,12 277.7,12.8" stroke="#1a9a1a" stroke-width="1.1" fill="none"/>
<rect x="288" y="1" width="1" height="21" fill="#a0a0a0"/><rect x="289" y="1" width="1" height="21" fill="#ffffff"/>
<path d="M306.5,13.8 L312.2,18.6" stroke="#a86a08" stroke-width="3" />
<path d="M306.5,13.8 L312.2,18.6" stroke="#f0d24a" stroke-width="1.6" />
<circle cx="303" cy="10" r="5.6" fill="#e2f4ff" stroke="#2a78c8" stroke-width="1"/>
<rect x="299.5" y="9.1" width="7" height="1.8" fill="#4b8db5"/>
<rect x="302.1" y="6.6" width="1.8" height="7" fill="#4b8db5"/>
<path d="M334.5,13.8 L340.2,18.6" stroke="#a86a08" stroke-width="3" />
<path d="M334.5,13.8 L340.2,18.6" stroke="#f0d24a" stroke-width="1.6" />
<circle cx="331" cy="10" r="5.6" fill="#e2f4ff" stroke="#2a78c8" stroke-width="1"/>
<rect x="327.5" y="9.1" width="7" height="1.8" fill="#4b8db5"/>
<rect x="353" y="4" width="7.6" height="7.6" rx="0.8" fill="#2e9a1c"/>
<rect x="354.3" y="7" width="5" height="2.4" fill="#fff"/>
<rect x="354.3" y="9" width="1" height="1.5" fill="#fff"/><rect x="358.3" y="9" width="1" height="1.5" fill="#fff"/>
<rect x="361" y="4" width="7.6" height="7.6" rx="0.8" fill="#1e52d0"/>
<rect x="362.3" y="7" width="5" height="2.4" fill="#fff"/>
<rect x="362.3" y="9" width="1" height="1.5" fill="#fff"/><rect x="366.3" y="9" width="1" height="1.5" fill="#fff"/>
<rect x="353" y="12" width="7.6" height="7.6" rx="0.8" fill="#1e52d0"/>
<rect x="354.3" y="15" width="5" height="2.4" fill="#fff"/>
<rect x="354.3" y="17" width="1" height="1.5" fill="#fff"/><rect x="358.3" y="17" width="1" height="1.5" fill="#fff"/>
<rect x="361" y="12" width="7.6" height="7.6" rx="0.8" fill="#2e9a1c"/>
<rect x="362.3" y="15" width="5" height="2.4" fill="#fff"/>
<rect x="362.3" y="17" width="1" height="1.5" fill="#fff"/><rect x="366.3" y="17" width="1" height="1.5" fill="#fff"/>
<rect x="378" y="1" width="1" height="21" fill="#a0a0a0"/><rect x="379" y="1" width="1" height="21" fill="#ffffff"/>
<rect x="383" y="0" width="26" height="23" fill="url(#chk)"/>
<rect x="383" y="0" width="25" height="1" fill="#a0a0a0"/>
<rect x="383" y="0" width="1" height="22" fill="#a0a0a0"/>
<rect x="408" y="0" width="1" height="23" fill="#ffffff"/>
<rect x="383" y="22" width="26" height="1" fill="#ffffff"/>
<rect x="391" y="6" width="1" height="14" fill="#525252"/>
<polygon points="389.5,8 391.5,5.5 393.5,8" fill="#525252"/>
<rect x="389" y="17" width="14" height="1" fill="#525252"/>
<polygon points="401,15.5 403.5,17.5 401,19.5" fill="#525252"/>
<polygon points="396,8 396,14.8 400,11.4" fill="#4ad04a" stroke="#119011" stroke-width="0.8"/>
<rect x="411" y="0" width="26" height="23" fill="url(#chk)"/>
<rect x="411" y="0" width="25" height="1" fill="#a0a0a0"/>
<rect x="411" y="0" width="1" height="22" fill="#a0a0a0"/>
<rect x="436" y="0" width="1" height="23" fill="#ffffff"/>
<rect x="411" y="22" width="26" height="1" fill="#ffffff"/>
<rect x="419" y="6" width="1" height="14" fill="#525252"/>
<polygon points="417.5,8 419.5,5.5 421.5,8" fill="#525252"/>
<rect x="417" y="17" width="14" height="1" fill="#525252"/>
<polygon points="429,15.5 431.5,17.5 429,19.5" fill="#525252"/>
<rect x="425" y="6" width="1" height="10" fill="#1a6a9a"/>
<path d="M426.5,11.5 H431" stroke="#c03000" stroke-width="1.2"/><polygon points="426.3,11.5 429,9.3 429,13.7" fill="#f05010"/>
<rect x="440" y="1" width="1" height="21" fill="#a0a0a0"/><rect x="441" y="1" width="1" height="21" fill="#ffffff"/>
<path d="M450.5,4.5 H459 L461.5,7 V17.5 H450.5 Z" fill="#fff" stroke="#8a8a8a" stroke-width="1"/>
<path d="M453.5,15 Q453,9 454.5,7.5 Q455.5,6.5 456,7" stroke="#3a3020" stroke-width="0.9" fill="none"/>
<path d="M458.3,10.3 h3.6 v3.9 h3.8 v3.6 h-3.8 v3.7 h-3.6 v-3.7 h-3.8 v-3.6 h3.8 z" fill="#1ed81e" stroke="#0a820a" stroke-width="0.8"/>
<polygon points="471.5,11 477.5,11 474.5,14.5" fill="#000"/>
<circle cx="496" cy="12" r="6.9" fill="#fff" stroke="#1a6ccc" stroke-width="2.6"/>
<circle cx="496" cy="12" r="7.9" fill="none" stroke="#0d4fa0" stroke-width="0.6"/>
<path d="M495.5,8.5 V12.3 H498.5" stroke="#222" stroke-width="0.9" fill="none"/>
<polygon points="510.5,11 516.5,11 513.5,14.5" fill="#000"/>
<rect x="527.5" y="5.5" width="15" height="13" fill="#fff" stroke="#3a78c0" stroke-width="1"/>
<rect x="528" y="6" width="14" height="2" fill="url(#tbar)"/>
<rect x="528" y="13" width="14" height="1" fill="#3a78c0"/>
<path d="M529,11.5 L531,11.5 L533,10 L535,9.5 L537,10.5 L539,10 L541,9.5" stroke="#a02010" stroke-width="1.1" fill="none"/>
<path d="M530,16.5 L532,15.5 L534,16.5 L536,15 L538,14.2 L540,16.5" stroke="#109010" stroke-width="1.1" fill="none"/>
<polygon points="549.5,11 555.5,11 552.5,14.5" fill="#000"/>
<rect x="561" y="0" width="1" height="24" fill="#a0a0a0"/><rect x="562" y="0" width="1" height="24" fill="#ffffff"/>
<rect x="565" y="2" width="3" height="1" fill="#a8a8a8"/>
<rect x="565" y="4" width="3" height="1" fill="#a8a8a8"/>
<rect x="565" y="6" width="3" height="1" fill="#a8a8a8"/>
<rect x="565" y="8" width="3" height="1" fill="#a8a8a8"/>
<rect x="565" y="10" width="3" height="1" fill="#a8a8a8"/>
<rect x="565" y="12" width="3" height="1" fill="#a8a8a8"/>
<rect x="565" y="14" width="3" height="1" fill="#a8a8a8"/>
<rect x="565" y="16" width="3" height="1" fill="#a8a8a8"/>
<rect x="565" y="18" width="3" height="1" fill="#a8a8a8"/>
<rect x="565" y="20" width="3" height="1" fill="#a8a8a8"/>
<rect x="571" y="0" width="26" height="23" fill="url(#chk)"/>
<rect x="571" y="0" width="25" height="1" fill="#a0a0a0"/>
<rect x="571" y="0" width="1" height="22" fill="#a0a0a0"/>
<rect x="596" y="0" width="1" height="23" fill="#ffffff"/>
<rect x="571" y="22" width="26" height="1" fill="#ffffff"/>
<polygon points="579.2,4.9 587,12.4 583.6,12.9 585.6,17.8 583.9,18.6 582.1,14.1 579.2,15.8" fill="#4d4d4d"/>
<path d="M604,12.5 H610 M613,12.5 H619 M611.5,5 V11 M611.5,14 V20" stroke="#454545" stroke-width="1"/>
<rect x="628" y="1" width="1" height="21" fill="#a0a0a0"/><rect x="629" y="1" width="1" height="21" fill="#ffffff"/>
<rect x="645" y="6" width="1" height="13" fill="#454545"/>
<rect x="668" y="12" width="12" height="1" fill="#454545"/>
<path d="M696.3,18.5 L707.8,7.2" stroke="#454545" stroke-width="1.1"/>
<path d="M722,13.5 L729.6,6.2 M727.3,18.6 L736.1,10.3" stroke="#5a5a5a" stroke-width="0.9" fill="none"/>
<path d="M724.4,18.6 Q725.2,15 724.6,11.5 M727.4,15.2 Q727.9,12.5 727.5,10.3 M730.5,14.7 Q731.1,11.5 730.6,8.4 M733.6,4.2 Q733.8,8 734.6,11.3" stroke="#3c3c3c" stroke-width="1.3" fill="none"/>
<path d="M723,17.4 H725.6 M725.6,12.2 H728.1 M729.2,11.3 H731.6 M732.2,8.2 H734.6" stroke="#3c3c3c" stroke-width="0.9" fill="none"/>
<path d="M737,16.6 H733.9 V20.4 H737 M733.9,18.5 H736.4" stroke="#3c3c3c" stroke-width="1.3" fill="none"/>
<rect x="751" y="5" width="1" height="1" fill="#454545"/>
<rect x="753" y="5" width="1" height="1" fill="#454545"/>
<rect x="755" y="5" width="1" height="1" fill="#454545"/>
<rect x="757" y="5" width="1" height="1" fill="#454545"/>
<rect x="759" y="5" width="1" height="1" fill="#454545"/>
<rect x="761" y="5" width="1" height="1" fill="#454545"/>
<rect x="763" y="5" width="1" height="1" fill="#454545"/>
<rect x="751" y="8" width="1" height="1" fill="#454545"/>
<rect x="753" y="8" width="1" height="1" fill="#454545"/>
<rect x="755" y="8" width="1" height="1" fill="#454545"/>
<rect x="757" y="8" width="1" height="1" fill="#454545"/>
<rect x="759" y="8" width="1" height="1" fill="#454545"/>
<rect x="761" y="8" width="1" height="1" fill="#454545"/>
<rect x="763" y="8" width="1" height="1" fill="#454545"/>
<rect x="751" y="12" width="1" height="1" fill="#454545"/>
<rect x="753" y="12" width="1" height="1" fill="#454545"/>
<rect x="755" y="12" width="1" height="1" fill="#454545"/>
<rect x="757" y="12" width="1" height="1" fill="#454545"/>
<rect x="759" y="12" width="1" height="1" fill="#454545"/>
<rect x="761" y="12" width="1" height="1" fill="#454545"/>
<rect x="763" y="12" width="1" height="1" fill="#454545"/>
<rect x="751" y="16" width="1" height="1" fill="#454545"/>
<rect x="753" y="16" width="1" height="1" fill="#454545"/>
<rect x="755" y="16" width="1" height="1" fill="#454545"/>
<rect x="757" y="16" width="1" height="1" fill="#454545"/>
<rect x="759" y="16" width="1" height="1" fill="#454545"/>
<path d="M761.5,20.8 V16.5 H765 M761.5,18.5 H764" stroke="#454545" stroke-width="1.2" fill="none"/>
<path d="M782.3,16.8 L785.6,8 L789,16.8 M783.6,13.8 H787.7" stroke="#454545" stroke-width="1.3" fill="none"/>
<rect x="809.5" y="6" width="1" height="1" fill="#454545"/>
<rect x="808.5" y="18" width="1" height="1" fill="#454545"/>
<rect x="811.5" y="6" width="1" height="1" fill="#454545"/>
<rect x="810.5" y="18" width="1" height="1" fill="#454545"/>
<rect x="813.5" y="6" width="1" height="1" fill="#454545"/>
<rect x="812.5" y="18" width="1" height="1" fill="#454545"/>
<rect x="815.5" y="6" width="1" height="1" fill="#454545"/>
<rect x="814.5" y="18" width="1" height="1" fill="#454545"/>
<rect x="817.5" y="6" width="1" height="1" fill="#454545"/>
<rect x="816.5" y="18" width="1" height="1" fill="#454545"/>
<rect x="819.5" y="6" width="1" height="1" fill="#454545"/>
<rect x="818.5" y="18" width="1" height="1" fill="#454545"/>
<rect x="808" y="8" width="1" height="1" fill="#454545"/>
<rect x="819" y="6" width="1" height="1" fill="#454545"/>
<rect x="808" y="10" width="1" height="1" fill="#454545"/>
<rect x="819" y="8" width="1" height="1" fill="#454545"/>
<rect x="808" y="12" width="1" height="1" fill="#454545"/>
<rect x="819" y="10" width="1" height="1" fill="#454545"/>
<rect x="808" y="14" width="1" height="1" fill="#454545"/>
<rect x="819" y="12" width="1" height="1" fill="#454545"/>
<rect x="808" y="16" width="1" height="1" fill="#454545"/>
<rect x="819" y="14" width="1" height="1" fill="#454545"/>
<rect x="808" y="18" width="1" height="1" fill="#454545"/>
<rect x="819" y="16" width="1" height="1" fill="#454545"/>
<rect x="807" y="5" width="2" height="2" fill="#454545"/>
<path d="M810.2,9.5 H817.8 M814,9.5 V17" stroke="#454545" stroke-width="1.3" fill="none"/>
<polygon points="835,10.7 838.4,6.1 841.8,10.7" fill="#454545"/>
<path d="M837.2,13.1 L839.4,15.3 L843.8,10.5" stroke="#454545" stroke-width="1.2" fill="none"/>
<polygon points="842.3,14.1 848.9,14.1 845.6,18.7" fill="#454545"/>
<polygon points="855.5,11 861.5,11 858.5,14.5" fill="#000"/>
<rect x="867" y="0" width="1" height="24" fill="#a0a0a0"/><rect x="868" y="0" width="1" height="24" fill="#ffffff"/>
<rect x="871" y="2" width="3" height="1" fill="#a8a8a8"/>
<rect x="871" y="4" width="3" height="1" fill="#a8a8a8"/>
<rect x="871" y="6" width="3" height="1" fill="#a8a8a8"/>
<rect x="871" y="8" width="3" height="1" fill="#a8a8a8"/>
<rect x="871" y="10" width="3" height="1" fill="#a8a8a8"/>
<rect x="871" y="12" width="3" height="1" fill="#a8a8a8"/>
<rect x="871" y="14" width="3" height="1" fill="#a8a8a8"/>
<rect x="871" y="16" width="3" height="1" fill="#a8a8a8"/>
<rect x="871" y="18" width="3" height="1" fill="#a8a8a8"/>
<rect x="871" y="20" width="3" height="1" fill="#a8a8a8"/>
<rect x="1017" y="0" width="26" height="23" fill="url(#chk)"/>
<rect x="1017" y="0" width="25" height="1" fill="#a0a0a0"/>
<rect x="1017" y="0" width="1" height="22" fill="#a0a0a0"/>
<rect x="1042" y="0" width="1" height="23" fill="#ffffff"/>
<rect x="1017" y="22" width="26" height="1" fill="#ffffff"/>
<text x="883" y="16" font-size="9.6" fill="#3c3c3c" textLength="12" lengthAdjust="spacingAndGlyphs">M1</text>
<text x="911" y="16" font-size="9.6" fill="#3c3c3c" textLength="12" lengthAdjust="spacingAndGlyphs">M5</text>
<text x="937" y="16" font-size="9.6" fill="#3c3c3c" textLength="17.5" lengthAdjust="spacingAndGlyphs">M15</text>
<text x="965" y="16" font-size="9.6" fill="#3c3c3c" textLength="17.5" lengthAdjust="spacingAndGlyphs">M30</text>
<text x="996" y="16" font-size="9.6" fill="#3c3c3c" textLength="11" lengthAdjust="spacingAndGlyphs">H1</text>
<text x="1022" y="16" font-size="9.6" fill="#3c3c3c" textLength="13" lengthAdjust="spacingAndGlyphs">H4</text>
<text x="1052" y="16" font-size="9.6" fill="#3c3c3c" textLength="11.5" lengthAdjust="spacingAndGlyphs">D1</text>
<text x="1079" y="16" font-size="9.6" fill="#3c3c3c" textLength="14" lengthAdjust="spacingAndGlyphs">W1</text>
<text x="1105" y="16" font-size="9.6" fill="#3c3c3c" textLength="15.5" lengthAdjust="spacingAndGlyphs">MN</text>
<rect x="1128" y="0" width="1" height="24" fill="#a0a0a0"/><rect x="1129" y="0" width="1" height="24" fill="#ffffff"/>
<circle cx="1598.5" cy="9.3" r="4" fill="#f4f6ff" stroke="#2a62d4" stroke-width="1.2"/>
<path d="M1595.3,12.6 L1591.2,16.6" stroke="#2a5ed0" stroke-width="2.6" stroke-linecap="round"/>
<ellipse cx="1620.6" cy="14.2" rx="5.3" ry="4.6" fill="#e6e8f0" stroke="#a8a8a8" stroke-width="0.9"/>
<path d="M1617.8,18 L1618.4,20.5 L1620.5,18.5" fill="#dcdfe8" stroke="#909090" stroke-width="0.8"/>
<circle cx="1629.5" cy="9.4" r="8.2" fill="url(#badge)"/>
<path d="M1627.3,7.2 L1629.8,5.4 V13.6 M1627.3,13.8 H1631.8" stroke="#fff" stroke-width="1.5" fill="none"/>
</svg>
</body></html>
